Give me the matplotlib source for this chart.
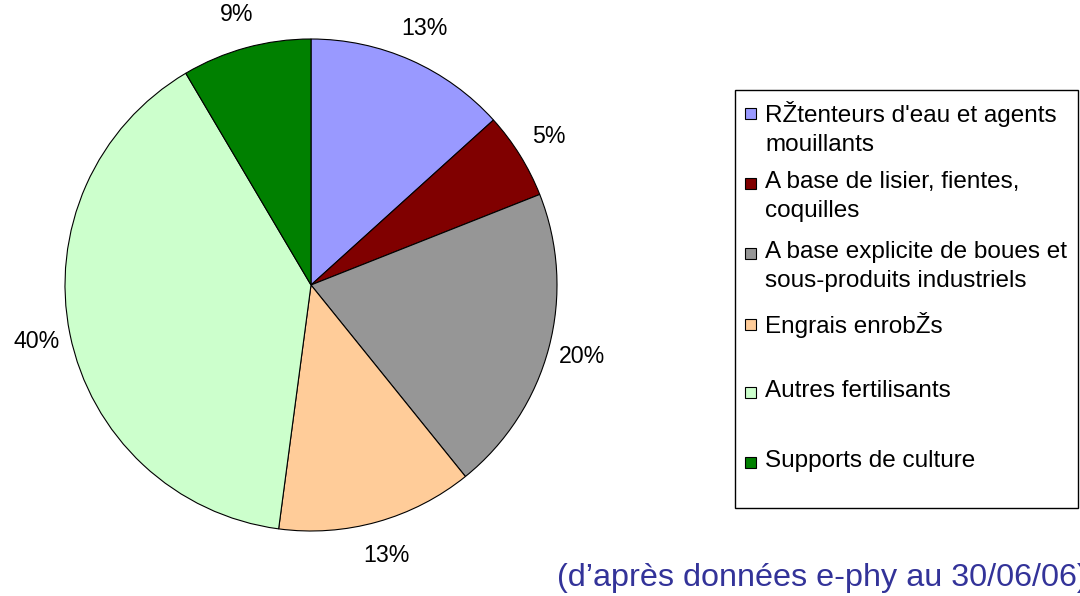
import matplotlib
matplotlib.use("Agg")
import matplotlib.pyplot as plt
from matplotlib.patches import Rectangle

plt.rcParams['font.family'] = ['Liberation Sans', 'DejaVu Sans']

# slice sizes and the printed percentages
categories = ["RŽtenteurs d'eau et agents\nmouillants",
              "A base de lisier, fientes,\ncoquilles",
              "A base explicite de boues et\nsous-produits industriels",
              "Engrais enrobŽs",
              "Autres fertilisants",
              "Supports de culture"]
shares = [13.3, 5.7, 20.2, 12.9, 39.4, 8.5]
pct_labels = ["13%", "5%", "20%", "13%", "40%", "9%"]
colors = ["#9999FF", "#800000", "#969696", "#FFCC99", "#CCFFCC", "#008000"]

fig = plt.figure(figsize=(10.8, 5.96), dpi=100)

# pie axes: centre (311,285) px, radius ~246 px
ax = fig.add_axes([65 / 1080, 65 / 596, 492 / 1080, 492 / 596])
lab_iter = iter(pct_labels)
ax.pie(shares, colors=colors, startangle=90, counterclock=False,
       autopct=lambda p: next(lab_iter), pctdistance=1.14,
       wedgeprops=dict(edgecolor="black", linewidth=0.8),
       textprops=dict(fontsize=16.7, color="black"))
ax.set_xlim(-1, 1)
ax.set_ylim(-1, 1)
ax.set_aspect("auto")

# legend drawn by hand on an overlay in pixel units
lg = fig.add_axes([0, 0, 1, 1])
lg.set_xlim(0, 1080)
lg.set_ylim(596, 0)
lg.axis("off")
lg.add_patch(Rectangle((735, 90), 343, 418, facecolor="white",
                       edgecolor="black", linewidth=1))
row_y = [113, 183, 253, 324, 392, 462]
for y, name, c in zip(row_y, categories, colors):
    lg.add_patch(Rectangle((745, y - 5.5), 11, 11, facecolor=c,
                           edgecolor="black", linewidth=0.8))
    lg.text(765, y - 12, name, fontsize=17.5, va="top", ha="left",
            linespacing=1.42)

lg.text(557, 578, "(d\u2019après données e-phy au 30/06/06)", fontsize=23.3,
        color="#333399", va="center", ha="left")

fig.savefig("out.png", dpi=100)
